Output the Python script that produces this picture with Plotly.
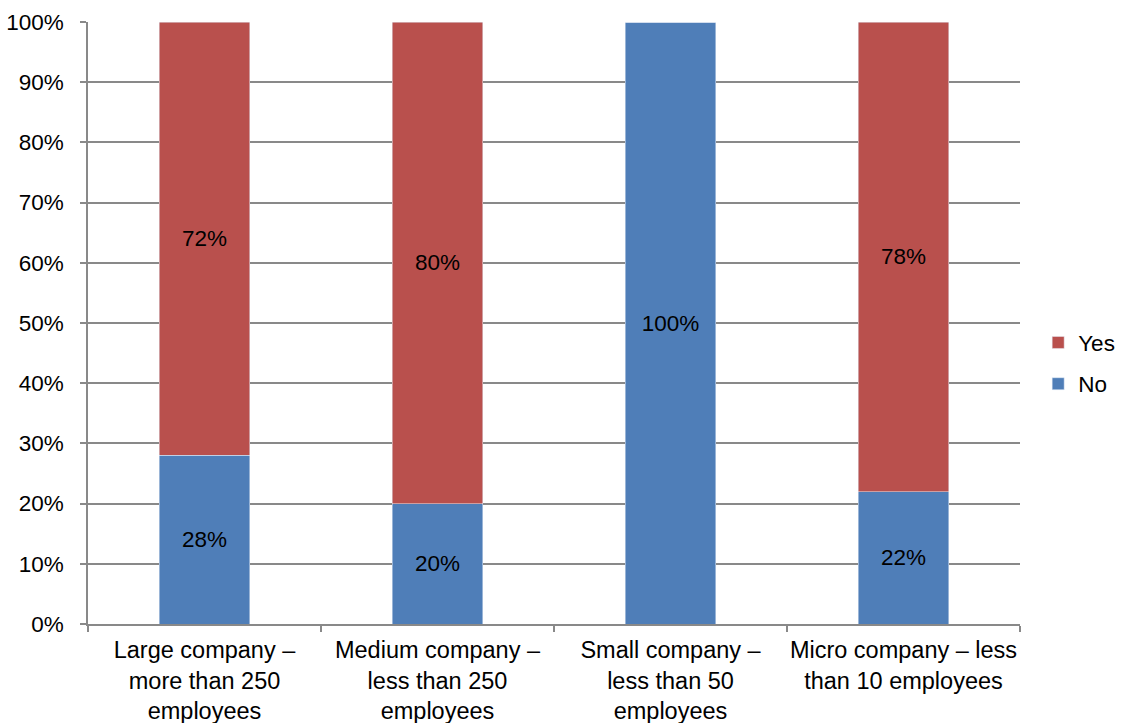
import plotly.graph_objects as go

categories = [
    "Large company –<br>more than 250<br>employees",
    "Medium company –<br>less than 250<br>employees",
    "Small company –<br>less than 50<br>employees",
    "Micro company – less<br>than 10 employees",
]
no_values = [28, 20, 100, 22]
yes_values = [72, 80, 0, 78]
y_ticks = [0, 10, 20, 30, 40, 50, 60, 70, 80, 90, 100]

FONT = "Liberation Sans, Arial, sans-serif"
BLUE = "#4F7EB8"
RED = "#B9504D"
GRID = "#898989"


def labels(vals):
    return [f"{v}%" if v else "" for v in vals]


fig = go.Figure()
fig.add_trace(go.Bar(
    name="No", x=categories, y=no_values, marker_color=BLUE,
    legendgroup="no", legendrank=2,
    text=labels(no_values), textposition="inside", insidetextanchor="middle",
    textangle=0, constraintext="none",
    textfont=dict(family=FONT, size=22.5, color="black"),
))
fig.add_trace(go.Bar(
    name="Yes", x=categories, y=yes_values, marker_color=RED,
    legendgroup="yes", legendrank=1,
    text=labels(yes_values), textposition="inside", insidetextanchor="middle",
    textangle=0, constraintext="none",
    textfont=dict(family=FONT, size=22.5, color="black"),
))

fig.update_layout(
    barmode="stack",
    bargap=0.61,
    width=1126, height=723,
    margin=dict(l=88, r=106, t=22, b=99, autoexpand=False),
    paper_bgcolor="white", plot_bgcolor="white",
    font=dict(family=FONT, size=22.5, color="black"),
    showlegend=True,
    legend=dict(
        xref="container", x=0.922, xanchor="left",
        y=0.433, yanchor="middle",
        traceorder="grouped", tracegroupgap=9,
        font=dict(size=22.5),
        itemwidth=30,
    ),
)
fig.update_xaxes(
    type="category",
    showline=True, linecolor=GRID, linewidth=1.5,
    ticks="outside", tickson="boundaries", ticklen=6, tickcolor=GRID, tickwidth=1.5,
    tickfont=dict(family=FONT, size=23.5, color="black"),
    tickangle=0, ticklabelstandoff=4,
    showgrid=False,
)
fig.update_yaxes(
    range=[0, 100], tickmode="array", tickvals=y_ticks,
    ticktext=[f"{v}%" for v in y_ticks],
    showline=True, linecolor=GRID, linewidth=1.5,
    ticks="outside", ticklen=6, tickcolor=GRID, tickwidth=1.5,
    showgrid=True, gridcolor=GRID, gridwidth=1.5,
    zeroline=False,
    tickfont=dict(family=FONT, size=22.5, color="black"),
    ticklabelstandoff=12,
)

fig.write_html("out.html")
